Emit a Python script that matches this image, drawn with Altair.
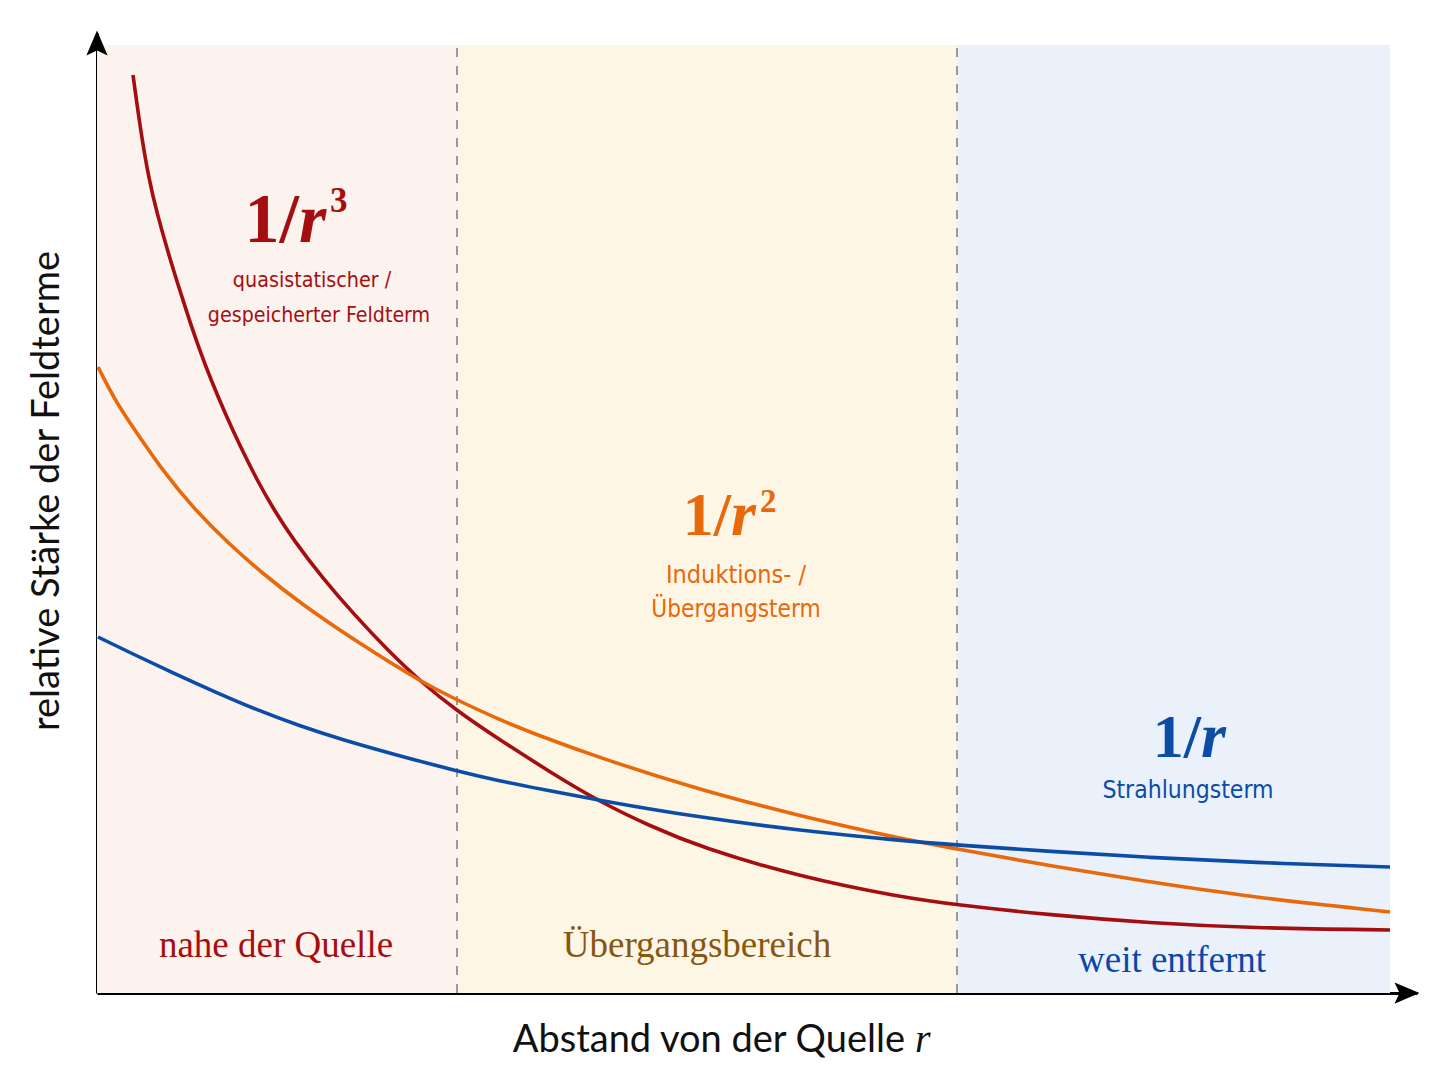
import altair as alt
import pandas as pd

# ---------------- data (x, y in chart units) ----------------
red_x = [0.36, 0.435, 0.52, 0.60, 0.695, 0.795, 0.90, 1.015, 1.14, 1.28, 1.435, 1.60, 1.77,
         1.965, 2.255, 2.575, 2.905, 3.24, 3.60, 4.03, 4.53, 5.03, 5.53, 6.03, 7.03, 8.03, 8.60,
         9.53, 10.53, 11.53, 12.93]
red_y = [9.18, 8.63, 8.13, 7.80, 7.46, 7.13, 6.80, 6.46, 6.13, 5.80, 5.46, 5.13, 4.83,
         4.53, 4.15, 3.78, 3.43, 3.11, 2.82, 2.53, 2.21, 1.91, 1.67, 1.46, 1.16, 0.96, 0.88,
         0.78, 0.70, 0.65, 0.63]

orange_x = [0.01, 0.18, 0.31, 0.65, 0.98, 1.31, 1.65, 2.03, 2.60, 3.26, 3.60, 4.03, 4.43,
            5.03, 6.03, 7.03, 8.03, 8.60, 9.53, 10.53, 11.53, 12.93]
orange_y = [6.26, 5.93, 5.73, 5.23, 4.83, 4.50, 4.20, 3.90, 3.51, 3.10, 2.93, 2.73, 2.57,
            2.35, 2.03, 1.77, 1.545, 1.44, 1.27, 1.11, 0.96, 0.81]

blue_x = [0.01, 0.38, 0.76, 1.18, 1.60, 2.03, 2.43, 3.03, 3.60, 4.03, 4.43, 5.03, 6.03,
          7.03, 8.03, 8.60, 9.53, 10.53, 11.53, 12.93]
blue_y = [3.56, 3.38, 3.20, 3.01, 2.83, 2.67, 2.54, 2.37, 2.22, 2.12, 2.04, 1.925, 1.755,
          1.625, 1.525, 1.48, 1.415, 1.355, 1.305, 1.26]

series_names = ["1/r³", "1/r²", "1/r"]
series_colors = ["#A50E10", "#E8680C", "#0B4DA6"]

region_start = [0.0, 3.6, 8.6]
region_end = [3.6, 8.6, 12.93]
region_top = 9.48
region_fill = ["#FCF2EE", "#FEF6E5", "#EAF1FB"]
divider_x = [3.6, 8.6]

region_labels = ["nahe der Quelle", "Übergangsbereich", "weit entfernt"]
region_label_x = [1.79, 6.00, 10.75]
region_label_y = [0.36, 0.36, 0.21]
region_label_colors = ["#A50E10", "#87560F", "#0B47A8"]

X_MAX = 13.2
Y_MAX = 9.6

RED, ORANGE, BLUE = series_colors

# ---------------- tables ----------------
lines_df = pd.concat([
    pd.DataFrame({"x": red_x, "y": red_y, "s": series_names[0]}),
    pd.DataFrame({"x": orange_x, "y": orange_y, "s": series_names[1]}),
    pd.DataFrame({"x": blue_x, "y": blue_y, "s": series_names[2]}),
])
regions_df = pd.DataFrame({"x": region_start, "x2": region_end, "y": 0.0,
                           "y2": region_top, "c": region_fill})
div_df = pd.DataFrame({"x": divider_x, "y": 0.0, "y2": region_top})

xs = alt.Scale(domain=[0, X_MAX], nice=False, zero=False)
ys = alt.Scale(domain=[0, Y_MAX], nice=False, zero=False)
ax = alt.Axis(title=None, labels=False, ticks=False, grid=False,
              domainColor="black", domainWidth=3)


def X(f="x"):
    return alt.X(f"{f}:Q", scale=xs, axis=ax)


def Y(f="y"):
    return alt.Y(f"{f}:Q", scale=ys, axis=ax)


SERIF = "Liberation Serif"
SANS = "Lato"
COND = "DejaVu Sans Condensed, DejaVu Sans, sans-serif"


def texts(rows, font, align="center", weight="normal", style="normal", angle=0):
    df = pd.DataFrame(rows, columns=["t", "x", "y", "c", "sz"])
    return alt.Chart(df).mark_text(
        font=font, align=align, baseline="alphabetic",
        fontWeight=weight, fontStyle=style, angle=angle
    ).encode(x=X(), y=Y(), text="t:N", color=alt.Color("c:N", scale=None),
             size=alt.Size("sz:Q", scale=None))


bg = alt.Chart(regions_df).mark_rect().encode(
    x=X(), x2="x2:Q", y=Y(), y2="y2:Q", color=alt.Color("c:N", scale=None))

dividers = alt.Chart(div_df).mark_rule(
    color="#9A9A9A", strokeWidth=2, strokeDash=[9, 9]).encode(x=X(), y=Y(), y2="y2:Q")

curves = alt.Chart(lines_df).mark_line(strokeWidth=3.6, interpolate="basis").encode(
    x=X(), y=Y(),
    color=alt.Color("s:N", scale=alt.Scale(domain=series_names, range=series_colors), legend=None),
    detail="s:N")

# formula labels: "1/" + italic "r" + superscript
big_upright = texts([["1/", 2.02, 7.51, RED, 70], ["1/", 6.34, 4.58, ORANGE, 62],
                     ["1/", 11.04, 2.36, BLUE, 62]], SERIF, align="right", weight="bold")
big_italic = texts([["r", 2.02, 7.51, RED, 70], ["r", 6.34, 4.58, ORANGE, 64],
                    ["r", 11.04, 2.36, BLUE, 64]], SERIF, align="left", weight="bold",
                   style="italic")
supers = texts([["3", 2.33, 7.81, RED, 35], ["2", 6.63, 4.81, ORANGE, 33]], SERIF,
               align="left", weight="bold")

descr = texts([["quasistatischer /", 2.15, 7.06, RED, 21.3],
               ["gespeicherter Feldterm", 2.22, 6.71, RED, 21.2],
               ["Induktions- /", 6.39, 4.10, ORANGE, 25],
               ["Übergangsterm", 6.39, 3.76, ORANGE, 24.2],
               ["Strahlungsterm", 10.91, 1.95, BLUE, 24.5]], COND)

regions_txt = texts([[t, x, y, c, 37] for t, x, y, c in
                     zip(region_labels, region_label_x, region_label_y, region_label_colors)],
                    SERIF)

x_title = texts([["Abstand von der Quelle", 8.08, -0.59, "#111111", 38]], SANS, align="right")
x_title_r = texts([["r", 8.18, -0.59, "#111111", 40]], SERIF, align="left", style="italic")
y_title = texts([["relative Stärke der Feldterme", -0.38, 5.02, "#111111", 38]], SANS,
                angle=270)

arrow_right = alt.Chart(pd.DataFrame({"x": [X_MAX], "y": [0.0]})).mark_point(
    shape="M0.2,0 L-1.8,-0.85 L-1.4,0 L-1.8,0.85 Z", filled=True, size=625,
    color="black", opacity=1, strokeWidth=0).encode(x=X(), y=Y())
arrow_up = alt.Chart(pd.DataFrame({"x": [0.0], "y": [Y_MAX]})).mark_point(
    shape="M0,-0.2 L-0.85,1.8 L0,1.4 L0.85,1.8 Z", filled=True, size=625,
    color="black", opacity=1, strokeWidth=0).encode(x=X(), y=Y())

chart = alt.layer(
    bg, dividers, curves, big_upright, big_italic, supers, descr, regions_txt,
    x_title, x_title_r, y_title, arrow_right, arrow_up
).properties(
    width=1320, height=960,
    autosize=alt.AutoSizeParams(type="none"),
    padding={"left": 89, "top": 25, "right": 20, "bottom": 70},
    background="white",
).configure_view(stroke=None)

chart.save("out.html", embed_options={"renderer": "svg", "actions": False})
